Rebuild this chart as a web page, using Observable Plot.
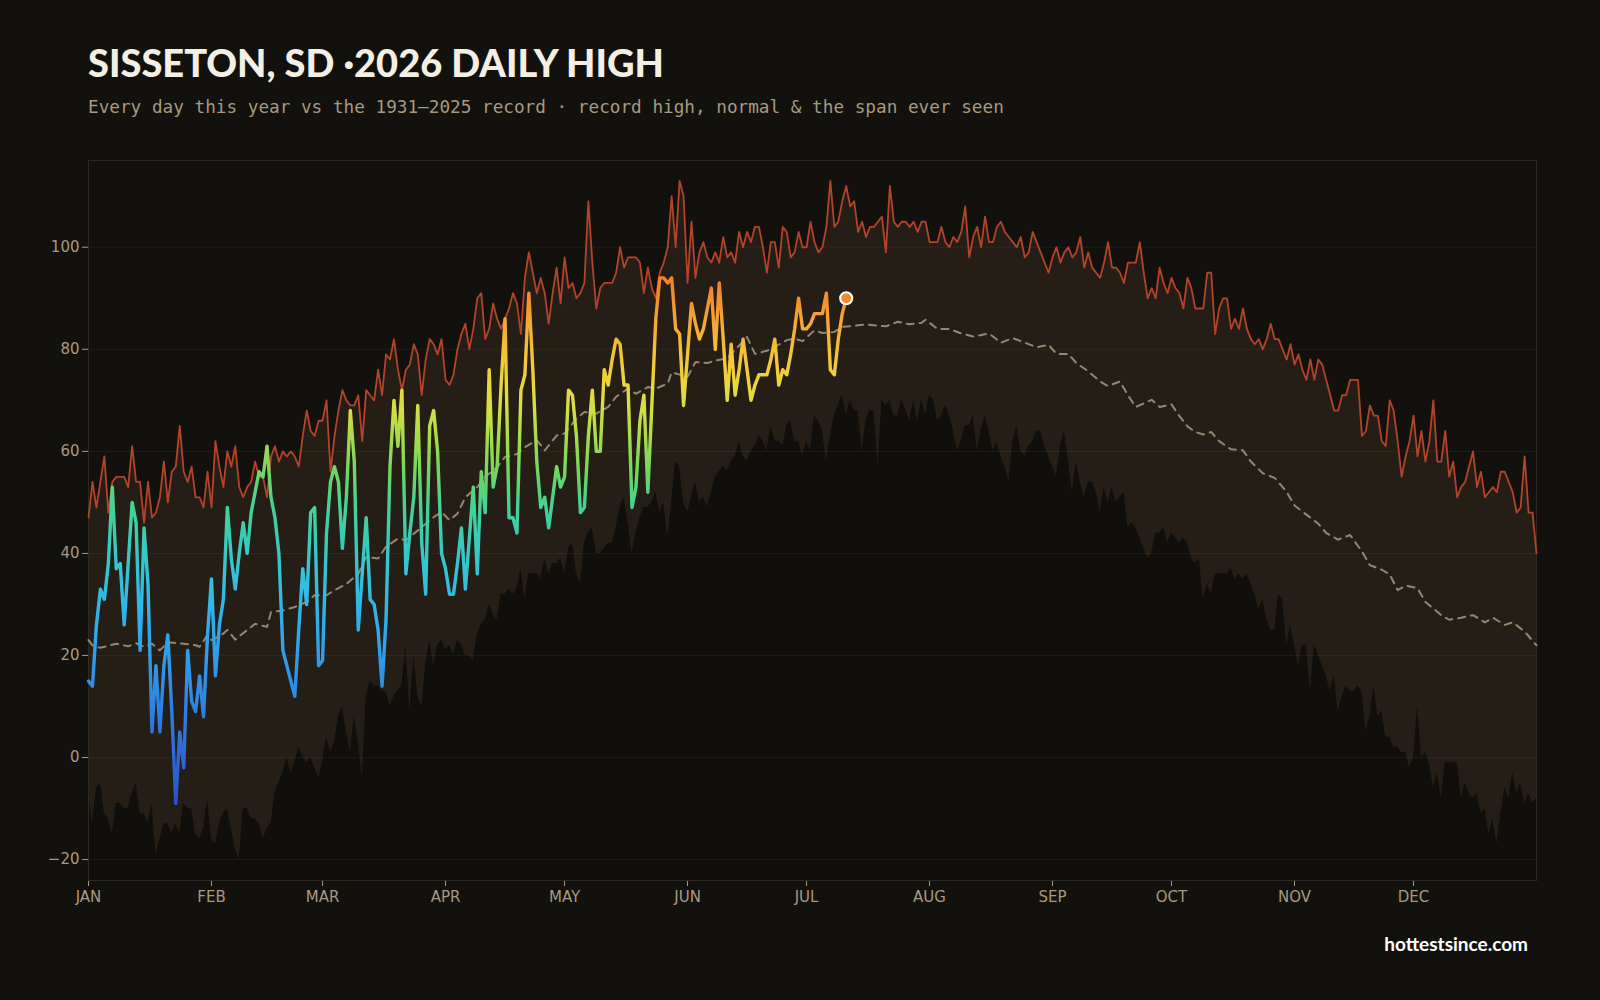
<!DOCTYPE html>
<html>
<head>
<meta charset="utf-8">
<script src="https://cdn.jsdelivr.net/npm/d3@7"></script>
<script src="https://cdn.jsdelivr.net/npm/@observablehq/plot@0.6"></script>
<style>
  html, body { margin: 0; padding: 0; background: #13110e; }
  body { width: 1600px; height: 1000px; position: relative; overflow: hidden; }
  #title { position: absolute; left: 88px; top: 43px; line-height: 1; font-family: Lato, "Open Sans", sans-serif; font-weight: 900; font-size: 38px; color: #f4efe5; white-space: nowrap; }
  #subtitle { position: absolute; left: 88px; top: 99px; line-height: 1; font-family: "DejaVu Sans Mono", monospace; font-size: 17.7px; color: #a8997f; white-space: nowrap; }
  #chart { position: absolute; left: 0; top: 130px; }
  #footer { position: absolute; right: 72px; top: 934px; line-height: 1; font-family: Lato, sans-serif; font-weight: 700; font-size: 19px; color: #ffffff; }
</style>
</head>
<body>
<div id="title">SISSETON, SD ·2026 DAILY HIGH</div>
<div id="subtitle">Every day this year vs the 1931–2025 record · record high, normal &amp; the span ever seen</div>
<div id="chart"></div>
<div id="footer">hottestsince.com</div>
<script>
// ---- data (°F), day index 0 = Jan 1 ----
const monthStarts = [0, 31, 59, 90, 120, 151, 181, 212, 243, 273, 304, 334];
const monthLabels = ["JAN","FEB","MAR","APR","MAY","JUN","JUL","AUG","SEP","OCT","NOV","DEC"];
const yTicks = [-20, 0, 20, 40, 60, 80, 100];

const recordHigh = [
  47,54,49,54,59,48,54,55,55,55, 53,61,54,54,46,54,47,48,51,58,
  50,56,57,65,56,54,57,51,51,49, 56,49,62,57,53,60,57,61,53,51,
  53,54,58,55,55,51,59,61,58,60, 59,60,59,57,63,68,64,63,66,66,
  70,56,63,68,72,70,69,69,71,62, 72,71,70,76,71,79,78,82,76,72,
  76,77,81,79,71,78,82,81,79,82, 74,73,75,80,83,85,80,84,90,91,
  82,84,89,86,84,86,88,91,89,83, 94,99,95,91,94,91,85,91,96,89,
  98,92,93,90,91,93,109,97,88,92, 93,93,93,95,100,96,98,98,98,97,
  91,96,92,90,95,97,100,110,100,113, 110,93,105,94,99,101,98,97,99,97,
  102,98,99,97,103,100,103,101,104,104, 100,95,101,101,96,104,103,98,99,103,
  100,100,105,101,99,100,104,113,104,105, 109,112,108,109,103,105,102,104,104,105,
  106,99,112,105,104,105,105,104,105,103, 105,105,101,101,101,104,101,100,102,101,
  103,108,98,102,104,100,106,101,101,104, 105,103,102,101,100,102,98,99,103,101,
  99,97,95,98,100,97,99,100,98,99, 102,96,99,96,95,94,97,101,96,96,
  95,93,97,97,97,101,95,90,92,90, 96,93,91,94,92,91,88,94,92,88,
  88,88,95,95,83,88,90,90,84,86, 84,88,84,82,81,82,80,82,85,82,
  82,80,78,81,77,79,76,74,78,74, 78,77,74,71,68,68,71,71,74,74,
  74,63,64,69,67,67,62,61,70,68, 62,55,59,62,67,59,64,58,62,70,
  58,58,64,55,58,51,53,54,57,60, 53,56,51,52,53,52,56,56,54,52,
  48,49,59,48,48,40
];

const recordLow = [
  -7,-13,-6,-5,-11,-12,-15,-9,-9,-10, -10,-7,-5,-11,-11,-13,-9,-19,-16,-13,
  -13,-15,-13,-15,-9,-10,-10,-15,-16,-14, -8,-16,-17,-13,-11,-10,-14,-18,-20,-10,
  -10,-12,-12,-13,-16,-14,-13,-7,-5,-3, 0,-3,-1,2,0,-1,0,-2,-4,-1,
  4,1,3,8,10,5,1,8,3,-4, 12,15,14,14,13,13,10,12,13,14,
  22,9,20,12,10,18,23,18,22,23, 21,22,20,23,22,20,20,19,24,26,
  27,30,28,27,32,32,33,32,33,37, 31,36,36,36,35,39,36,38,38,39,
  36,41,42,36,34,42,44,45,40,40, 41,42,42,45,49,51,46,40,44,47,
  49,49,50,52,48,50,43,50,58,57, 50,48,51,54,50,51,49,52,55,56,
  57,56,58,59,62,59,58,60,61,63, 62,60,65,62,62,61,65,66,62,62,
  59,62,60,67,66,64,58,63,67,69, 71,67,70,68,68,60,66,68,68,57,
  70,69,70,67,67,70,68,66,70,66, 70,67,71,70,66,67,69,67,64,60,
  62,65,65,67,60,64,67,64,60,62, 59,57,54,62,65,60,59,61,62,64,
  64,61,59,57,55,61,64,58,52,58, 54,51,54,54,52,48,53,50,53,50,
  51,52,45,46,45,43,41,39,40,44, 44,45,42,44,43,42,43,42,39,38,
  39,31,34,32,36,36,36,36,37,35, 36,35,36,34,32,29,31,27,25,25,
  32,31,22,26,22,18,22,22,13,22, 20,18,16,13,16,9,12,14,13,13,
  14,13,5,8,14,8,9,4,4,2, 2,1,1,-2,0,10,0,1,-1,-6,
  -3,-8,-1,-1,-1,-1,-8,-5,-7,-8, -7,-11,-10,-15,-12,-17,-11,-6,-8,-3,
  -7,-5,-9,-7,-9,-8
];

const normalDay = [0,1,3,7,10,12,14,16,18,20,24,27,28,30,31,34,35,37,40,42,45,46,49,52,55,57,60,62,65,68,70,73,75,78,80,83,85,87,89,91,93,95,98,100,103,105,108,110,113,115,118,120,123,125,128,131,133,136,138,141,143,146,147,151,153,156,158,161,163,166,168,171,173,176,178,180,183,185,188,190,193,196,199,201,204,207,210,211,214,217,220,223,227,230,233,236,239,242,244,247,249,252,255,257,260,262,264,268,270,273,275,277,279,281,283,285,288,291,293,296,299,302,304,307,310,312,315,318,321,323,326,328,330,332,335,337,341,343,346,349,352,354,357,359,362,364,365];
const normalTemp = [23,22,21.5,22.3,21.8,22.4,21.7,22.3,21,22.6,22.3,22,21.7,24,23,24.3,25,23.1,25,26.2,25.6,28.5,28.8,29.5,30.5,31.8,31.8,32.8,34,36,39.3,39,41.3,42.9,42.6,44.5,45.8,47.1,48.1,46.5,47.8,51,53,55,56.9,58.9,59.5,60.8,62.2,60.2,63.1,63.5,66.4,67.7,67.4,68.7,70.7,72.3,71.3,72.6,72.3,73.3,75.5,74.6,77.5,77.3,77.8,78.2,79.9,82.4,79.1,79.7,80.5,81.8,82.1,81.6,83.7,83.2,83.4,84.4,84.6,84.9,84.6,84.5,85.4,84.9,85.2,85.8,84,84,83.1,82.5,83.1,81.3,82.2,81.3,80.4,80.9,79.1,79.1,77.3,75.7,73.7,72.8,73.7,71,68.7,70.1,68.7,69.2,66.9,64.9,63.8,63.3,63.8,62,60.4,60.2,58,55.7,54.8,52.1,49.4,47.6,45.8,44,42.7,43.6,40.4,37.7,36.8,35.9,32.8,33.7,33.2,30.5,27.9,27,27.4,27.9,26.5,27.4,26,26.5,24.7,22.9,22];

const high2026 = [
  15,14,26,33,31,38,53,37,38,26, 38,50,46,21,45,34,5,18,5,18,
  24,9,-9,5,-2,21,11,9,16,8, 24,35,16,26,31,49,39,33,40,46,
  40,48,52,56,55,61,51,47,40,21, 18,15,12,25,37,30,48,49,18,19,
  44,54,57,54,41,51,68,58,25,36, 47,31,30,25,14,27,57,70,61,72,
  36,44,51,69,42,32,65,68,60,40, 37,32,32,38,45,33,43,53,36,56,
  48,76,53,57,73,86,47,47,44,72, 75,91,76,58,49,51,45,51,57,53,
  55,72,71,63,48,49,63,72,60,60, 76,73,78,82,81,73,73,49,53,66,
  71,52,69,86,94,94,93,94,84,83, 69,79,89,85,82,84,88,92,80,93,
  82,70,81,71,76,82,76,70,73,75, 75,75,78,82,73,76,75,79,84,90,
  84,84,85,87,87,87,91,76,75,82, 87,90
];

// colour ramp for the 2026 line (temperature → colour)
const rampTemps  = [-20, -8, 3, 12, 20, 28, 36, 44, 50, 56, 62, 68, 73, 79, 85, 90, 96, 117];
const rampColors = ["#2a44b8","#2b55c9","#2e6fd9","#2f87e4","#2f9de9","#31b2ea","#34c3d8","#3acdb0","#48d38e","#6fd762","#a0db4c","#d2df42","#ecd63e","#f4c438","#f5a934","#f38f2e","#ee7a2a","#e8662a"];

// ---- build tables ----
const records = recordHigh.map((hi, i) => ({d: i, hi, lo: recordLow[i]}));
const normal = normalDay.map((d, i) => ({d, t: normalTemp[i]}));
const year = high2026.map((t, i) => ({d: i, t}));
const last = year[year.length - 1];

const yDomain = [-24.1, 117];

const chart = Plot.plot({
  width: 1600,
  height: 790,
  marginTop: 30,
  marginRight: 64,
  marginBottom: 40,
  marginLeft: 88,
  style: {background: "transparent", color: "#a8997f", fontFamily: "'DejaVu Sans', sans-serif", fontSize: "15px", overflow: "visible"},
  x: {domain: [0, 365], ticks: monthStarts, tickFormat: d => monthLabels[monthStarts.indexOf(d)], tickSize: 6, tickPadding: 5, label: null},
  y: {domain: yDomain, ticks: yTicks, tickSize: 6, tickPadding: 3, label: null},
  marks: [
    Plot.areaY(records, {x: "d", y1: yDomain[0], y2: "lo", fill: "#110f0c"}),
    Plot.areaY(records, {x: "d", y1: "lo", y2: "hi", fill: "#241e16"}),
    Plot.ruleY(yTicks, {stroke: "#ffffff", strokeOpacity: 0.05}),
    Plot.frame({stroke: "#2e2922"}),
    Plot.line(normal, {x: "d", y: "t", stroke: "#a89a80", strokeWidth: 2, strokeDasharray: "7,6", strokeOpacity: 0.85}),
    Plot.line(records, {x: "d", y: "hi", stroke: "#b3442a", strokeWidth: 1.8}),
    Plot.line(year, {x: "d", y: "t", stroke: "url(#tempGrad)", strokeWidth: 3.4, strokeLinejoin: "round", strokeLinecap: "round"}),
    Plot.dot([last], {x: "d", y: "t", r: 6, fill: "#ef8a2f", stroke: "#ffffff", strokeWidth: 2.2})
  ]
});

// vertical gradient in y so that line colour follows temperature
const ys = chart.scale("y");
const NS = "http://www.w3.org/2000/svg";
const defs = document.createElementNS(NS, "defs");
const grad = document.createElementNS(NS, "linearGradient");
grad.setAttribute("id", "tempGrad");
grad.setAttribute("gradientUnits", "userSpaceOnUse");
grad.setAttribute("x1", 0);
grad.setAttribute("x2", 0);
grad.setAttribute("y1", ys.apply(yDomain[0]));
grad.setAttribute("y2", ys.apply(yDomain[1]));
rampTemps.forEach((v, i) => {
  const s = document.createElementNS(NS, "stop");
  s.setAttribute("offset", Math.max(0, Math.min(1, (v - yDomain[0]) / (yDomain[1] - yDomain[0]))));
  s.setAttribute("stop-color", rampColors[i]);
  grad.appendChild(s);
});
defs.appendChild(grad);
chart.insertBefore(defs, chart.firstChild);

document.getElementById("chart").appendChild(chart);
</script>
</body>
</html>
